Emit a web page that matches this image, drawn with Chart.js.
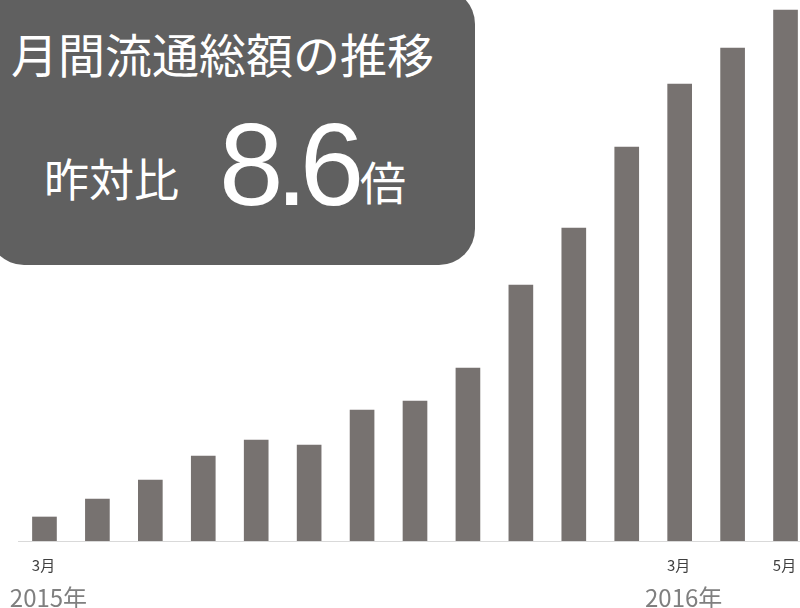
<!DOCTYPE html>
<html>
<head>
<meta charset="utf-8">
<script src="https://cdn.jsdelivr.net/npm/chart.js@4"></script>
<style>
  html, body { margin: 0; padding: 0; background: #fff; overflow: hidden; }
  #wrap { position: relative; width: 800px; height: 608px; overflow: hidden; }
  #wrap canvas { position: absolute; left: 0; top: 0; }
  .badge {
    position: absolute; left: -12px; top: -12px; width: 487px; height: 277px;
    background: #606060; border-radius: 36px; color: #fff;
    font-family: "Noto Sans CJK JP", sans-serif;
  }
  .badge span { position: absolute; white-space: nowrap; line-height: 1; }
  .ttl { left: 23px; top: 41px; font-size: 47px; }
  .lbl { left: 56px; top: 167px; font-size: 45px; }
  .num { left: 231px; top: 119px; font-size: 116px; font-family: "Liberation Sans", Arial, sans-serif; letter-spacing: -8px; }
  .unit { left: 372px; top: 169px; font-size: 46px; }
</style>
</head>
<body>
<div id="wrap">
  <canvas id="myBarChart" width="812" height="608" style="width:812px;height:608px"></canvas>
  <div class="badge">
    <span class="ttl">月間流通総額の推移</span>
    <span class="lbl">昨対比</span>
    <span class="num">8.6</span>
    <span class="unit">倍</span>
  </div>
</div>
<script>
// months Mar 2015 .. May 2016
var months = ['2015-03', '2015-04', '2015-05', '2015-06', '2015-07', '2015-08', '2015-09', '2015-10',
  '2015-11', '2015-12', '2016-01', '2016-02', '2016-03', '2016-04', '2016-05'];
var values = [24, 42, 61, 85, 101, 96, 131, 140, 173, 256, 313, 394, 457, 493, 531];
var tickLabels = ['3月', '', '', '', '', '', '', '', '', '', '', '', '3月', '', '5月'];
var yearLabels = ['2015年', '', '', '', '', '', '', '', '', '', '', '', '2016年', '', ''];

var axisLabels = {
  id: 'axisLabels',
  afterDraw: function(chart) {
    var ctx = chart.ctx;
    var area = chart.chartArea;
    var xs = chart.scales.x;
    ctx.save();
    ctx.strokeStyle = '#d9d9d9';
    ctx.lineWidth = 1;
    ctx.beginPath();
    ctx.moveTo(area.left, area.bottom + 0.5);
    ctx.lineTo(chart.width, area.bottom + 0.5);
    ctx.stroke();

    ctx.textAlign = 'center';
    ctx.textBaseline = 'middle';
    for (var i = 0; i < months.length; i++) {
      var x = xs.getPixelForValue(i);
      if (tickLabels[i]) {
        ctx.fillStyle = '#404040';
        ctx.font = '15px "Noto Sans CJK JP", sans-serif';
        ctx.fillText(tickLabels[i], x - 1, area.bottom + 24);
      }
      if (yearLabels[i]) {
        ctx.fillStyle = '#7f7f7f';
        ctx.font = '24px "Noto Sans CJK JP", sans-serif';
        ctx.fillText(yearLabels[i], x + 4, area.bottom + 57);
      }
    }
    ctx.restore();
  }
};

var ctx = document.getElementById('myBarChart').getContext('2d');
var chart = new Chart(ctx, {
  type: 'bar',
  data: {
    labels: months,
    datasets: [
      {
        data: values,
        backgroundColor: '#777270',
        borderWidth: 0,
        barThickness: 24
      }
    ]
  },
  options: {
    responsive: false,
    animation: false,
    layout: { padding: { left: 18, right: 0, top: 0, bottom: 67 } },
    plugins: {
      legend: { display: false },
      tooltip: { enabled: false }
    },
    scales: {
      x: { display: false },
      y: { display: false, min: 0, max: 541 }
    }
  },
  plugins: [axisLabels]
});
</script>
</body>
</html>
